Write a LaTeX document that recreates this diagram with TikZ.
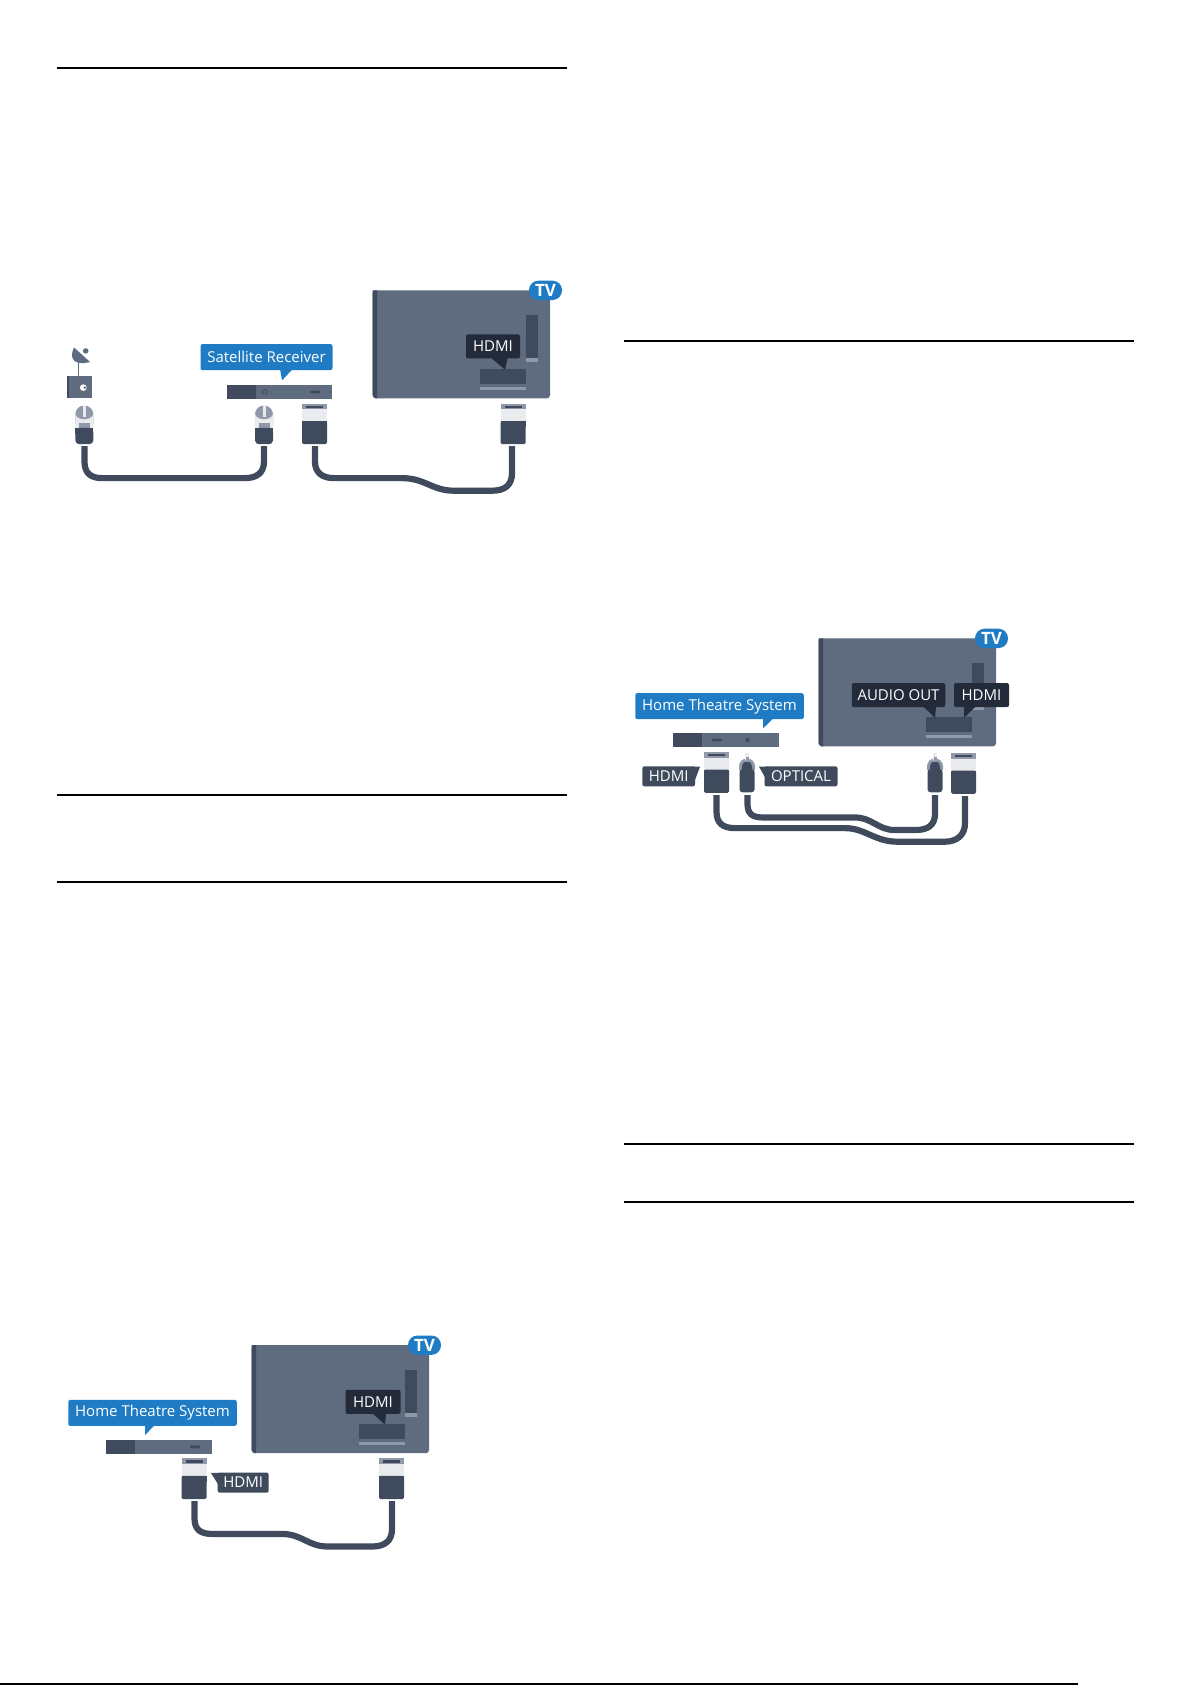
\documentclass[tikz,border=0pt]{standalone}
\usepackage{fontspec}
\setmainfont{Open Sans}
\definecolor{tvbody}{HTML}{5F6B7F}
\definecolor{tvdark}{HTML}{3F4A5C}
\definecolor{tvlight}{HTML}{8F99A9}
\definecolor{tagblue}{HTML}{1F7CC4}
\definecolor{tagblack}{HTML}{232A3A}
\definecolor{plugwhite}{HTML}{E9EBEE}
\tikzset{
  every pic/.style={yscale=0.968},
  px/.style={x=1pt,y=-1pt},
  rulemark/.style={line width=2pt,black},
  thinrule/.style={line width=1.2pt,black},
  cablepath/.style={draw=tvdark,line width=6.2pt},
  bluetag/.style={fill=tagblue,text=white,rounded corners=2pt,inner sep=0pt,minimum height=26pt,font=\fontsize{15}{15}\selectfont},
  blacktag/.style={fill=tagblack,text=white,rounded corners=2pt,inner sep=0pt,minimum height=24pt,font=\fontsize{15}{15}\selectfont},
  greytag/.style={fill=tvdark,text=white,rounded corners=2pt,inner sep=0pt,minimum height=20pt,font=\fontsize{15}{15}\selectfont},
  pics/tvset/.style={code={
    \fill[tvbody,rounded corners=3pt] (0,0) -- (177.5,0) -- (177.5,111.5) -- (0,111.5) -- cycle;
    \fill[tvdark] (0,0) -- (4.5,0) -- (4.5,111.5) -- (3,111.5) -- (0,108) -- cycle;
    \fill[tvdark] (153,25.5) rectangle (165,70);
    \fill[tvlight] (153,70) rectangle (165,74);
    \fill[tvdark] (107,81) rectangle (153,97);
    \fill[tvlight] (107,99.5) rectangle (153,103);
    \fill[tagblue,rounded corners=9.5pt] (156.5,-10) rectangle (189.5,10);
    \node[text=white,font=\fontsize{17}{17}\selectfont\bfseries] at (173,0) {TV};
  }},
  pics/hdmiplug/.style={code={
    \fill[tvlight] (0,0) rectangle (25,6);
    \fill[tvdark] (4,2) rectangle (21,4.5);
    \fill[plugwhite] (0,6) rectangle (25,18);
    \fill[tvdark,rounded corners=1.5pt] (0,18) -- (25,18) -- (25,42) -- (0,42) -- cycle;
    \fill[tvdark] (0,18) rectangle (25,24);
  }},
  pics/coaxplug/.style={code={
    \fill[tvlight] (-9,10) arc[start angle=180,end angle=360,radius=9] -- (9,20) -- (-9,20) -- cycle;
    \fill[plugwhite] (-9,10) .. controls (-7,17) and (7,17) .. (9,10) -- (9,24) -- (-9,24) -- cycle;
    \fill[plugwhite] (-1.5,0) rectangle (1.5,13);
    \fill[tvlight] (-5.5,19) rectangle (6,24);
    \fill[tvdark,rounded corners=4pt] (-9,24) -- (9,24) -- (9,41) -- (-9,41) -- cycle;
    \fill[tvdark] (-9,24) rectangle (9,30);
  }},
  pics/optplug/.style={code={
    \fill[tvlight] (-8,14) arc[start angle=180,end angle=360,radius=8] -- (8,18) -- (-8,18) -- cycle;
    \fill[tvdark] (-5,14) arc[start angle=180,end angle=360,radius=5] -- (5,18) -- (-5,18) -- cycle;
    \fill[plugwhite,rounded corners=1.5pt] (-2,0) -- (2,0) -- (2,9) -- (-2,9) -- cycle;
    \fill[tvlight] (-1.5,5) rectangle (1.5,10);
    \fill[tvdark,rounded corners=3pt] (-7.5,17) -- (7.5,17) -- (7.5,41) -- (-7.5,41) -- cycle;
  }},
}
\begin{document}
\begin{tikzpicture}[px]
\useasboundingbox (0,0) rectangle (1192,1685);
\fill[white] (0,0) rectangle (1192,1685);
% section rules
\draw[rulemark] (57,68) -- (567,68);
\draw[rulemark] (57,795) -- (567,795);
\draw[thinrule] (57,882) -- (567,882);
\draw[thinrule] (624,341) -- (1134,341);
\draw[rulemark] (624,1144) -- (1134,1144);
\draw[thinrule] (624,1202) -- (1134,1202);
\draw[line width=2pt,black] (0,1684) -- (1078,1684);

% ---------- Diagram 1: satellite ----------
\begin{scope}[shift={(40,270)},yscale=0.968]
  \pic at (332.5,21) {tvset};
  \fill[tagblack] (449,89) -- (468,89) -- (465,103) -- cycle;
  \node[blacktag,minimum width=54pt] (h1) at (453,79) {HDMI};
  % dish
  \fill[tvbody] (34,80) .. controls (28,93) and (36,99) .. (50,95) -- cycle;
  \fill[tvbody] (45.7,83.6) circle (2.8pt);
  \draw[tvbody,line width=1pt] (38.7,94) -- (38.7,110);
  \fill[tvbody] (27.3,109.5) rectangle (52.3,132);
  \fill[tvdark] (27.3,109.5) rectangle (29.3,132);
  \fill[white] (43.3,121.5) circle (3.4pt);
  \fill[tvbody] (44.8,121.5) circle (1.4pt);
  % receiver
  \fill[tvbody] (186.5,119) rectangle (292,133);
  \fill[tvdark] (186.5,119) rectangle (215.5,133);
  \draw[tvdark,line width=0.8pt] (224.5,126) circle (2.4pt);
  \fill[tvdark,rounded corners=1pt] (270,124.5) rectangle (280,127.5);
  \fill[tagblue] (240,102) -- (253,102) -- (242,114) -- cycle;
  \node[bluetag,minimum width=132pt] (sr) at (226.5,90) {Satellite Receiver};
  % plugs
  \pic at (44.3,139) {coaxplug};
  \pic at (224,139) {coaxplug};
  \pic at (262,138) {hdmiplug};
  \pic at (460.5,138) {hdmiplug};
  % cables
  \coordinate (a1) at (44.5,182);
  \coordinate (a2) at (224,182);
  \draw[cablepath] (a1) -- (44.5,198) .. controls (44.5,210) and (51,215) .. (62,215) -- (205,215) .. controls (216,215) and (224,210) .. (224,198) -- (a2);
  \coordinate (b1) at (275,182);
  \coordinate (b2) at (472,182);
  \draw[cablepath] (b1) -- (275,198) .. controls (275,210) and (283,215) .. (294,215) -- (362,215) .. controls (385,215) and (392,228) .. (414,228) -- (452,228) .. controls (465,228) and (472,222) .. (472,210) -- (b2);
\end{scope}

% ---------- Diagram 2: home theatre + optical ----------
\begin{scope}[shift={(620,620)},yscale=0.968]
  \pic at (198.5,19) {tvset};
  \fill[tagblack] (303,89) -- (316,89) -- (315,101) -- cycle;
  \node[blacktag,minimum width=93.5pt] (ao) at (278.5,77.5) {AUDIO OUT};
  \fill[tagblack] (344,89) -- (356,89) -- (344,101) -- cycle;
  \node[blacktag,minimum width=55pt] (h2) at (361.5,77.5) {HDMI};
  % receiver
  \fill[tvbody] (53,117) rectangle (158.5,131);
  \fill[tvdark] (53,117) rectangle (82,131);
  \fill[tvdark,rounded corners=1pt] (92,122.5) rectangle (102,125.5);
  \fill[tvdark] (127.5,124) circle (2.2pt);
  \fill[tagblue] (143,100) -- (155,100) -- (143,112) -- cycle;
  \node[bluetag,minimum width=168.5pt] (ht) at (99.5,89) {Home Theatre System};
  % plugs
  \pic at (84,136.5) {hdmiplug};
  \pic at (331,137.5) {hdmiplug};
  \pic at (127,137) {optplug};
  \pic at (315,137) {optplug};
  % labels
  \fill[tvdark] (72,151.5) -- (80,151.5) -- (74,168) -- cycle;
  \node[greytag,minimum width=52.7pt] (h3) at (48.7,161.5) {HDMI};
  \fill[tvdark] (139,151.5) -- (148,151.5) -- (148,168) -- cycle;
  \node[greytag,minimum width=73pt] (op) at (181,161.5) {OPTICAL};
  % cables
  \coordinate (c1) at (127.5,181);
  \coordinate (c2) at (315,181);
  \draw[cablepath] (c1) -- (127.5,190) .. controls (127.5,200) and (132,204) .. (143,204) -- (235,204) .. controls (252,204) and (258,217) .. (275,217) -- (295,217) .. controls (308,217) and (315,212) .. (315,200) -- (c2);
  \coordinate (d1) at (96.5,181);
  \coordinate (d2) at (345,182);
  \draw[cablepath] (d1) -- (96.5,198) .. controls (96.5,210) and (103,215) .. (115,215) -- (225,215) .. controls (245,215) and (255,229) .. (277,229) -- (325,229) .. controls (337,229) and (345,222) .. (345,210) -- (d2);
\end{scope}

% ---------- Diagram 3: home theatre HDMI ----------
\begin{scope}[shift={(50,1320)},yscale=0.968]
  \pic at (201.5,26) {tvset};
  \fill[tagblack] (323,97) -- (336,97) -- (335,108) -- cycle;
  \node[blacktag,minimum width=55pt] (h4) at (323,84.5) {HDMI};
  % receiver
  \fill[tvbody] (56,124) rectangle (161.5,138);
  \fill[tvdark] (56,124) rectangle (85,138);
  \fill[tvdark,rounded corners=1pt] (140,129.5) rectangle (150,132.5);
  \fill[tagblue] (95,107) -- (106,107) -- (95,119) -- cycle;
  \node[bluetag,minimum width=168.5pt] (ht2) at (102.5,96) {Home Theatre System};
  % plugs
  \pic at (131.5,143) {hdmiplug};
  \pic at (329,143) {hdmiplug};
  % label
  \fill[tvdark] (161,158) -- (170,158) -- (170,173) -- cycle;
  \node[greytag,minimum width=51pt] (h5) at (193.2,168) {HDMI};
  % cable
  \coordinate (e1) at (144.5,187);
  \coordinate (e2) at (342,187);
  \draw[cablepath] (e1) -- (144.5,205) .. controls (144.5,216) and (150,221) .. (162,221) -- (232,221) .. controls (252,221) and (258,234) .. (278,234) -- (322,234) .. controls (335,234) and (342,228) .. (342,216) -- (e2);
\end{scope}
\end{tikzpicture}
\end{document}
